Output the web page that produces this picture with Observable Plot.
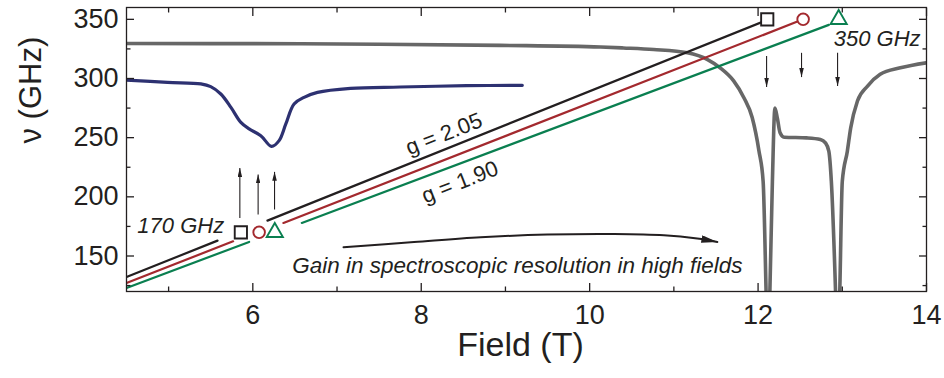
<!DOCTYPE html>
<html><head><meta charset="utf-8">
<script src="https://cdn.jsdelivr.net/npm/d3@7"></script>
<script src="https://cdn.jsdelivr.net/npm/@observablehq/plot@0.6"></script>
<style>html,body{margin:0;padding:0;background:#fff;}</style>
</head><body><div id="chart"></div>
<script>
// ---- data ----
const xMajor = [6, 8, 10, 12, 14];
const xMinor = [5, 7, 9, 11, 13];
const yMajor = [150, 200, 250, 300, 350];
const yMinor = [125, 175, 225, 275, 325];

// 350 GHz transmission trace (gray)
const grayField = [4.5, 5.5, 6.57, 7.5, 8.94, 10.13, 10.4, 10.76, 11.16, 11.4, 11.55, 11.71, 11.83, 11.93, 12.01, 12.06, 12.095, 12.115, 12.14, 12.17, 12.2, 12.23, 12.26, 12.31, 12.58, 12.74, 12.8, 12.84, 12.87, 12.92, 12.945, 12.97, 13.0, 13.06, 13.1, 13.18, 13.3, 13.45, 13.69, 14.0];
const grayFreq  = [329.6, 329.5, 329.4, 329.0, 328.0, 326.6, 325.8, 324.5, 321.7, 316, 309, 298, 284, 267, 239, 213, 120, 60, 120, 213, 275, 266, 254.4, 250.4, 249.8, 248.5, 245.6, 238.6, 213, 120, 60, 120, 213, 238.6, 258.3, 281, 293.6, 303.5, 309, 313.3];

// 170 GHz transmission trace (blue)
const blueField = [4.5, 4.987, 5.383, 5.5, 5.62, 5.74, 5.858, 5.956, 6.095, 6.222, 6.312, 6.392, 6.49, 6.609, 6.768, 7.16, 7.75, 8.54, 9.2];
const blueFreq  = [298.7, 296.7, 295.4, 293.1, 286.9, 275.6, 262.9, 257.4, 251.7, 242.6, 247.5, 261.6, 278.5, 284.1, 288.3, 291.7, 292.8, 293.9, 294.2];

// resonance lines (two segments each: start/end, start/end)
const lineNames = ["g205", "gmid", "g190"];
const g205Field = [4.5, 5.581, 6.174, 12.109];
const g205Freq  = [132.2, 163.0, 179.9, 349.5];
const gmidField = [4.5, 5.766, 6.364, 12.535];
const gmidFreq  = [127.2, 162.4, 177.9, 350];
const g190Field = [4.5, 5.956, 6.582, 12.84];
const g190Freq  = [122.9, 161.9, 177.9, 345.3];

// open markers at 170 and 350 GHz (square, circle, triangle)
const markerField170 = [5.858, 6.075, 6.261];
const markerField350 = [12.109, 12.535, 12.957];
const markerFreqs = [170, 350];

// vertical arrows
const upArrowField = [5.846, 6.063, 6.258];
const upArrowFrom  = [182.1, 185.0, 189.3];
const upArrowTo    = [224.4, 218.9, 221.1];
const downArrowField = [12.101, 12.516, 12.944];
const downArrowFrom  = [319.0, 321.7, 321.7];
const downArrowTo    = [292.8, 301.2, 293.6];

// curved "gain" arrow
const gainArrowField = [7.077, 7.915, 8.706, 9.498, 10.288, 10.882, 11.278, 11.516];
const gainArrowFreq  = [157.4, 161.8, 165.8, 168.1, 168.6, 167.5, 164.7, 161.8];

// texts
const freqLabels = ["170 GHz", "350 GHz"];
const freqLabelField = [5.66, 13.93];
const freqLabelFreq = [175.4, 333.3];
const gLabels = ["g = 2.05", "g = 1.90"];
const gLabelField = [8.27, 8.46];
const gLabelFreq = [253.0, 212.4];
const gainText = ["Gain in spectroscopic resolution in high fields"];
const gainField = [9.142];
const gainFreq = [141.5];
const xTitle = "Field (T)";
const yTitle = "ν (GHz)";

// ---- styles ----
const INK = "#231f20";
const FONT = "'Liberation Sans', Arial, Helvetica, sans-serif";
const COLORS = {g205: "#231f20", gmid: "#a3292e", g190: "#0a7f50"};
const SYMBOLS = ["square", "circle", "triangle"];
const RADII = [6.9, 5.8, 6.0];

// ---- tables ----
const grayRows = grayField.map((b, i) => ({b, v: grayFreq[i]}));
const blueRows = blueField.map((b, i) => ({b, v: blueFreq[i]}));
const seriesData = {g205: [g205Field, g205Freq], gmid: [gmidField, gmidFreq], g190: [g190Field, g190Freq]};
const gRows = lineNames.flatMap(name => seriesData[name][0].map((b, i) => ({b, v: seriesData[name][1][i], name, key: name + "-" + Math.floor(i / 2)})));
const markerRows = [markerField170, markerField350].flatMap((fields, j) => fields.map((b, i) => ({b, v: markerFreqs[j], k: i})));
const upRows = upArrowField.map((b, i) => ({b, v1: upArrowFrom[i], v2: upArrowTo[i]}));
const downRows = downArrowField.map((b, i) => ({b, v1: downArrowFrom[i], v2: downArrowTo[i]}));
const gainRows = gainArrowField.map((b, i) => ({b, v: gainArrowFreq[i]}));

const axisCommon = {color: INK, strokeWidth: 1.3, label: null, fontFamily: FONT};
const blank = () => "";

const markerMarks = SYMBOLS.map((sym, k) =>
  Plot.dot(markerRows.filter(d => d.k === k), {x: "b", y: "v", symbol: sym, r: RADII[k], stroke: COLORS[lineNames[k]], fill: "#fff", strokeWidth: 1.9})
);

const chart = Plot.plot({
  width: 944, height: 378,
  marginLeft: 126, marginRight: 18, marginTop: 7, marginBottom: 87,
  x: {domain: [4.5, 14], label: null},
  y: {domain: [120, 360], label: null},
  style: {fontFamily: FONT, color: INK, background: "#fff", overflow: "visible"},
  marks: [
    Plot.line(grayRows, {x: "b", y: "v", stroke: "#676767", strokeWidth: 3.6, curve: "monotone-x", clip: true}),
    Plot.line(blueRows, {x: "b", y: "v", stroke: "#2d3171", strokeWidth: 3.2, curve: "catmull-rom", clip: true}),
    Plot.line(gRows, {x: "b", y: "v", z: "key", stroke: d => COLORS[d.name], strokeWidth: 2.2, clip: true}),
    ...markerMarks,
    Plot.link(upRows, {x1: "b", x2: "b", y1: "v1", y2: "v2", stroke: INK, strokeWidth: 1.1, ariaDescription: "small-arrow"}),
    Plot.link(downRows, {x1: "b", x2: "b", y1: "v1", y2: "v2", stroke: INK, strokeWidth: 1.1, ariaDescription: "small-arrow"}),
    Plot.line(gainRows, {x: "b", y: "v", stroke: INK, strokeWidth: 2, curve: "catmull-rom", ariaDescription: "big-arrow"}),
    Plot.text(freqLabels, {x: (d, i) => freqLabelField[i], y: (d, i) => freqLabelFreq[i], text: d => d, textAnchor: "end", fontStyle: "italic", fontSize: 22, fill: INK}),
    Plot.text(gLabels, {x: (d, i) => gLabelField[i], y: (d, i) => gLabelFreq[i], text: d => d, rotate: -21.5, fontSize: 22, fill: INK}),
    Plot.text(gainText, {x: (d, i) => gainField[i], y: (d, i) => gainFreq[i], text: d => d, fontStyle: "italic", fontSize: 22.5, fill: INK}),
    Plot.frame({stroke: INK, strokeWidth: 1.3}),
    Plot.axisX({...axisCommon, anchor: "bottom", ticks: xMajor, tickSize: -8, tickPadding: 21, fontSize: 27, tickFormat: d => String(d)}),
    Plot.axisX({...axisCommon, anchor: "bottom", ticks: xMinor, tickSize: -4.5, tickFormat: blank}),
    Plot.axisX({...axisCommon, anchor: "top", ticks: xMajor, tickSize: -8, tickFormat: blank}),
    Plot.axisX({...axisCommon, anchor: "top", ticks: xMinor, tickSize: -4.5, tickFormat: blank}),
    Plot.axisY({...axisCommon, anchor: "left", ticks: yMajor, tickSize: -8, tickPadding: 16, fontSize: 27, tickFormat: d => String(d)}),
    Plot.axisY({...axisCommon, anchor: "left", ticks: yMinor, tickSize: -4.5, tickFormat: blank}),
    Plot.axisY({...axisCommon, anchor: "right", ticks: yMajor, tickSize: -8, tickFormat: blank}),
    Plot.axisY({...axisCommon, anchor: "right", ticks: yMinor, tickSize: -4.5, tickFormat: blank}),
    Plot.text([xTitle], {frameAnchor: "bottom", dy: 64, dx: -6, fontSize: 34, fill: INK}),
    Plot.text([yTitle], {frameAnchor: "left", dx: -95, dy: -6, rotate: -90, fontSize: 31, fill: INK})
  ]
});

// filled arrowheads
const ns = "http://www.w3.org/2000/svg";
const svg = chart.tagName.toLowerCase() === "svg" ? chart : chart.querySelector("svg");
const defs = document.createElementNS(ns, "defs");
function addMarker(id, len, wid) {
  const m = document.createElementNS(ns, "marker");
  m.setAttribute("id", id);
  m.setAttribute("viewBox", "0 0 10 10");
  m.setAttribute("refX", "10");
  m.setAttribute("refY", "5");
  m.setAttribute("markerUnits", "userSpaceOnUse");
  m.setAttribute("markerWidth", len);
  m.setAttribute("markerHeight", wid);
  m.setAttribute("preserveAspectRatio", "none");
  m.setAttribute("orient", "auto");
  const p = document.createElementNS(ns, "path");
  p.setAttribute("d", "M0,0L10,5L0,10Z");
  p.setAttribute("fill", INK);
  m.appendChild(p);
  defs.appendChild(m);
}
addMarker("head-small", 9, 4.6);
addMarker("head-big", 16, 7.5);
svg.insertBefore(defs, svg.firstChild);
svg.querySelectorAll('[aria-description="small-arrow"] path').forEach(p => p.setAttribute("marker-end", "url(#head-small)"));
svg.querySelectorAll('[aria-description="big-arrow"] path').forEach(p => p.setAttribute("marker-end", "url(#head-big)"));

document.getElementById("chart").appendChild(chart);
</script></body></html>
